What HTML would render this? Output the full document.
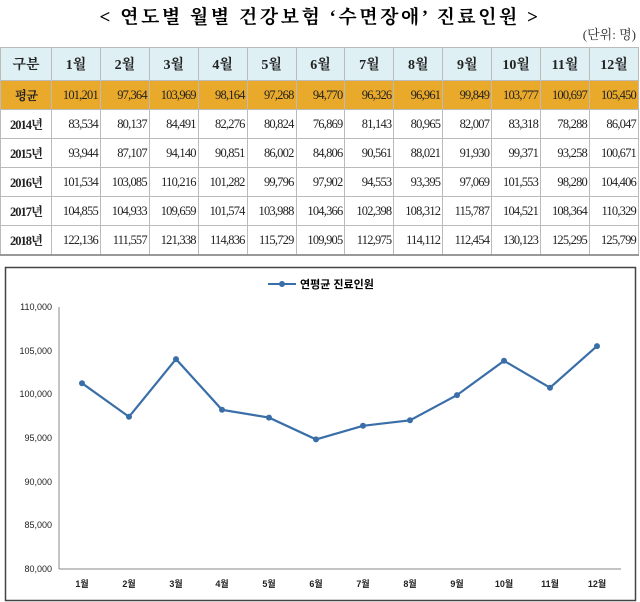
<!DOCTYPE html>
<html><head><meta charset="utf-8"><style>
body{margin:0;width:640px;height:602px;background:#fff;font-family:"Liberation Serif","Noto Serif CJK SC",serif;overflow:hidden;position:relative}
.t{position:absolute;top:2px;left:0;width:640px;text-align:center;font-size:19px;font-weight:bold;letter-spacing:2.5px}
.u{position:absolute;top:24px;right:4px;font-size:13px;color:#333}
table{position:absolute;top:47px;left:0;border-collapse:collapse;width:639px;table-layout:fixed}
td{border:1px solid #bbb;height:28px;padding:0 2px;text-align:right;font-size:12.5px;letter-spacing:-0.8px;color:#222}
tr.h td{background:#dff0f5;height:32px;text-align:center;font-weight:bold;font-size:14px;letter-spacing:0}
tr.a td{background:#e9a92a}
td:first-child{text-align:center;font-weight:bold;width:46px;letter-spacing:-1px}
tr:last-child td{border-bottom:2px solid #999}
</style></head><body>
<div class="t">&lt; 연도별 월별 건강보험 ‘수면장애’ 진료인원 &gt;</div>
<div class="u">(단위: 명)</div>
<table>
<tr class="h"><td>구분</td><td>1월</td><td>2월</td><td>3월</td><td>4월</td><td>5월</td><td>6월</td><td>7월</td><td>8월</td><td>9월</td><td>10월</td><td>11월</td><td>12월</td></tr>
<tr class="a"><td>평균</td><td>101,201</td><td>97,364</td><td>103,969</td><td>98,164</td><td>97,268</td><td>94,770</td><td>96,326</td><td>96,961</td><td>99,849</td><td>103,777</td><td>100,697</td><td>105,450</td></tr>
<tr><td>2014년</td><td>83,534</td><td>80,137</td><td>84,491</td><td>82,276</td><td>80,824</td><td>76,869</td><td>81,143</td><td>80,965</td><td>82,007</td><td>83,318</td><td>78,288</td><td>86,047</td></tr>
<tr><td>2015년</td><td>93,944</td><td>87,107</td><td>94,140</td><td>90,851</td><td>86,002</td><td>84,806</td><td>90,561</td><td>88,021</td><td>91,930</td><td>99,371</td><td>93,258</td><td>100,671</td></tr>
<tr><td>2016년</td><td>101,534</td><td>103,085</td><td>110,216</td><td>101,282</td><td>99,796</td><td>97,902</td><td>94,553</td><td>93,395</td><td>97,069</td><td>101,553</td><td>98,280</td><td>104,406</td></tr>
<tr><td>2017년</td><td>104,855</td><td>104,933</td><td>109,659</td><td>101,574</td><td>103,988</td><td>104,366</td><td>102,398</td><td>108,312</td><td>115,787</td><td>104,521</td><td>108,364</td><td>110,329</td></tr>
<tr><td>2018년</td><td>122,136</td><td>111,557</td><td>121,338</td><td>114,836</td><td>115,729</td><td>109,905</td><td>112,975</td><td>114,112</td><td>112,454</td><td>130,123</td><td>125,295</td><td>125,799</td></tr>
</table>
<svg style="position:absolute;left:0;top:0" width="640" height="602" font-family="Liberation Sans,Noto Sans CJK KR,sans-serif">
<rect x="5.5" y="267.5" width="630" height="333" fill="none" stroke="#444" stroke-width="1.5"/>
<line x1="268" y1="284" x2="296" y2="284" stroke="#3a6ea8" stroke-width="2"/><circle cx="282" cy="284" r="3" fill="#3a6ea8"/>
<text x="300" y="288" font-size="11" font-weight="bold">연평균 진료인원</text>
<g font-size="9" text-anchor="end" fill="#222">
<text x="52" y="310">110,000</text><text x="52" y="354">105,000</text><text x="52" y="397">100,000</text><text x="52" y="441">95,000</text><text x="52" y="485">90,000</text><text x="52" y="528">85,000</text><text x="52" y="572">80,000</text></g>
<line x1="59" y1="307" x2="59" y2="569" stroke="#888"/><line x1="59" y1="569" x2="621" y2="569" stroke="#888"/>
<g font-size="9" text-anchor="middle" fill="#222" font-weight="bold">
<text x="82" y="587">1월</text><text x="129" y="587">2월</text><text x="176" y="587">3월</text><text x="222" y="587">4월</text><text x="269" y="587">5월</text><text x="316" y="587">6월</text><text x="363" y="587">7월</text><text x="410" y="587">8월</text><text x="457" y="587">9월</text><text x="504" y="587">10월</text><text x="550" y="587">11월</text><text x="597" y="587">12월</text></g>
<polyline fill="none" stroke="#3a6ea8" stroke-width="2.2" points="82,383.2 129,416.8 176,359.1 222,409.8 269,417.6 316,439.4 363,425.8 410,420.3 457,395.1 504,360.8 550,387.7 597,346.1"/>
<g fill="#3a6ea8"><circle cx="82" cy="383.2" r="3"/><circle cx="129" cy="416.8" r="3"/><circle cx="176" cy="359.1" r="3"/><circle cx="222" cy="409.8" r="3"/><circle cx="269" cy="417.6" r="3"/><circle cx="316" cy="439.4" r="3"/><circle cx="363" cy="425.8" r="3"/><circle cx="410" cy="420.3" r="3"/><circle cx="457" cy="395.1" r="3"/><circle cx="504" cy="360.8" r="3"/><circle cx="550" cy="387.7" r="3"/><circle cx="597" cy="346.1" r="3"/></g>
</svg>
</body></html>
